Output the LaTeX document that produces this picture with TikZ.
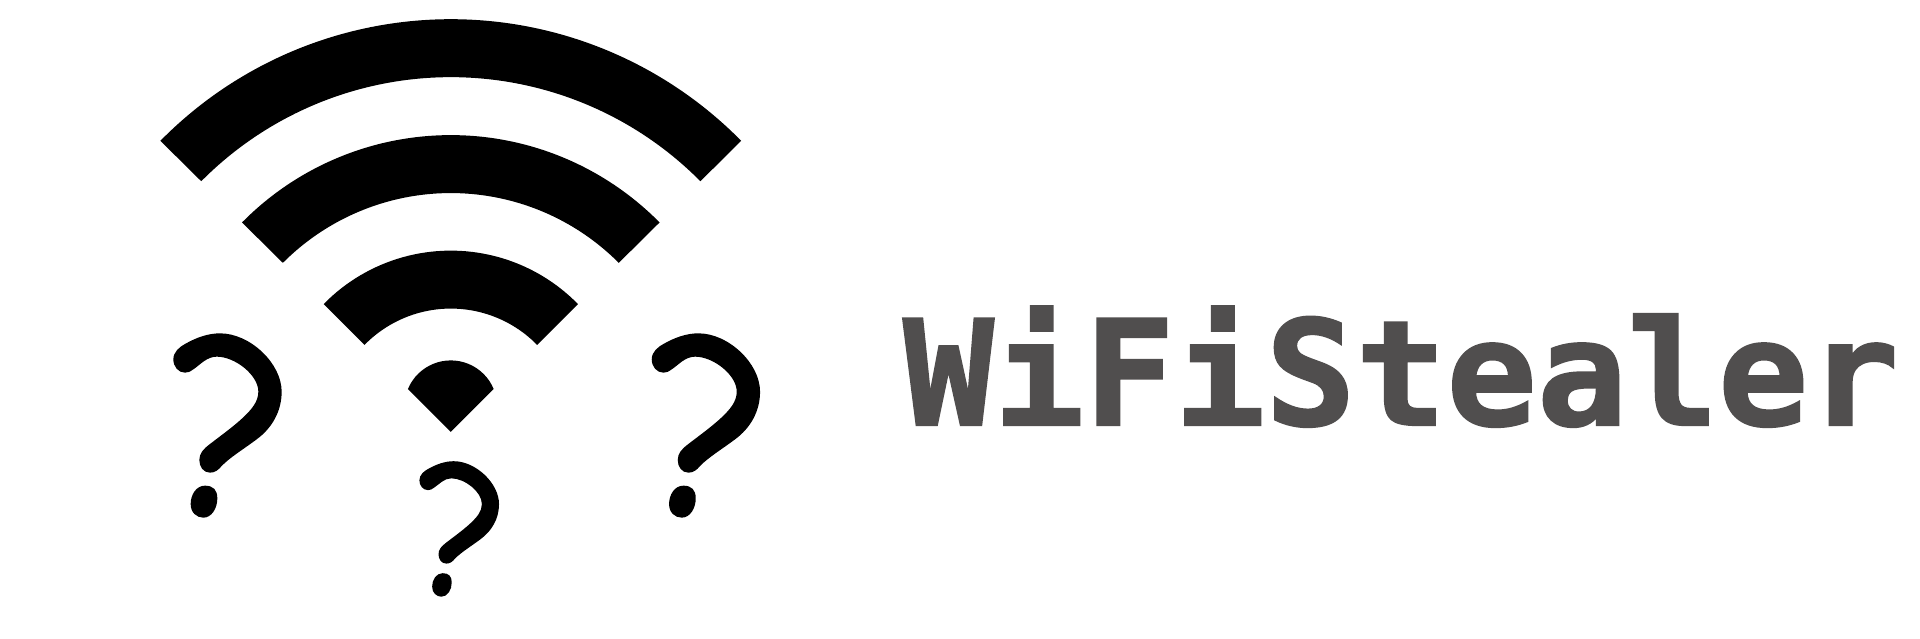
\documentclass[tikz,border=0pt]{standalone}
\usepackage{fontspec}
\newfontfamily\logofont{DejaVu Sans Mono}[BoldFont={DejaVu Sans Mono Bold},BoldFeatures={FakeBold=1.5}]
\definecolor{logogray}{HTML}{504E4E}
\newcommand{\wband}[6]{%
  % half width, end y, top y of outer arc, then of inner arc (reference zoom units)
  \pgfmathsetmacro{\ro}{100*((#1/100)*(#1/100)+((#2-#3)/100)*((#2-#3)/100))/(2*((#2-#3)/100))}
  \pgfmathsetmacro{\ao}{asin((#1)/\ro)}
  \pgfmathsetmacro{\ri}{100*((#4/100)*(#4/100)+((#5-#6)/100)*((#5-#6)/100))/(2*((#5-#6)/100))}
  \pgfmathsetmacro{\ai}{asin((#4)/\ri)}
  \fill (786-#1,1565.55-#2) arc[start angle=90+\ao,end angle=90-\ao,radius=\ro]
    -- (786+#4,1565.55-#5) arc[start angle=90-\ai,end angle=90+\ai,radius=\ri] -- cycle;
}
\newcommand{\qmark}[3]{%
  \begin{scope}[shift={(#1pt,-#2pt)},x=#3pt,y=-#3pt]
  \fill (40,118) .. controls (40,95) and (60,80) .. (75,72)
    .. controls (110,52) and (145,40) .. (180,40)
    .. controls (270,40) and (365,130) .. (365,215)
    .. controls (365,275) and (335,325) .. (290,358)
    .. controls (250,388) and (210,412) .. (185,438)
    .. controls (175,450) and (165,458) .. (150,458)
    .. controls (130,458) and (118,440) .. (118,420)
    .. controls (118,400) and (130,387) .. (150,372)
    .. controls (185,345) and (220,320) .. (250,292)
    .. controls (275,268) and (295,245) .. (295,215)
    .. controls (295,165) and (225,110) .. (170,110)
    .. controls (140,110) and (120,135) .. (100,148)
    .. controls (90,155) and (85,158) .. (75,158)
    .. controls (55,158) and (40,140) .. (40,118) -- cycle;
  \fill (92,552) .. controls (92,525) and (108,497) .. (135,497)
    .. controls (160,497) and (172,510) .. (172,535)
    .. controls (172,565) and (155,593) .. (130,593)
    .. controls (110,593) and (92,578) .. (92,552) -- cycle;
  \end{scope}
}
\begin{document}
\begin{tikzpicture}[x=1pt,y=1pt]
\useasboundingbox (0,-639) rectangle (1920,0);
\fill[white] (0,-639) rectangle (1920,0);
\begin{scope}[shift={(130pt,-639pt)},x=0.40816pt,y=0.40816pt]
  \wband{711.5}{345}{47}{611.5}{444}{189}
  \wband{511.5}{545}{331}{411.5}{644}{473}
  \wband{311.5}{745}{614}{211.5}{845}{756}
  \fill (681,1565.55-953) arc[start angle=157.38,end angle=22.62,radius=113.75] -- (786,1565.55-1058) -- cycle;
\end{scope}
\qmark{160}{320}{0.33333}
\qmark{638.4}{320}{0.33333}
\qmark{409.6}{451.4}{0.245}
\node[name=title,anchor=base west,inner sep=0pt,text=logogray,xscale=1.03,font=\logofont\bfseries\fontsize{146}{146}\selectfont] at (903,-425) {WiFiStealer};
\end{tikzpicture}
\end{document}
